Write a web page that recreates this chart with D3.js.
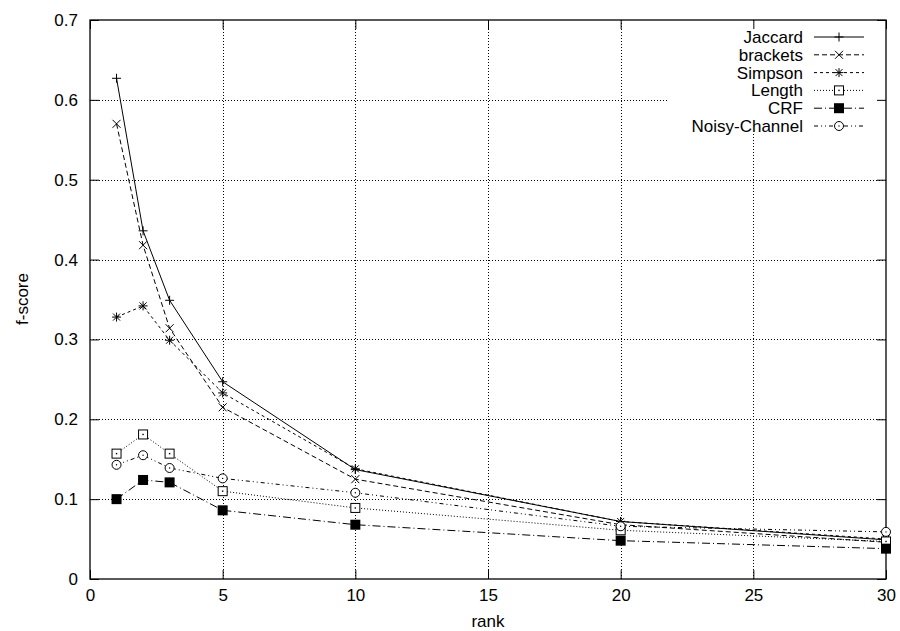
<!DOCTYPE html>
<html>
<head>
<meta charset="utf-8">
<script src="https://cdn.jsdelivr.net/npm/d3@7"></script>
<style>
  html, body { margin: 0; padding: 0; background: #fff; }
  svg { display: block; font-family: "Liberation Sans", Arial, Helvetica, sans-serif; }
</style>
</head>
<body>
<svg id="chart" width="900" height="631"></svg>
<script>
// Rank positions on the x axis
const ranks = [1, 2, 3, 5, 10, 20, 30];

// f-score per method at each rank
const jaccard  = [0.627, 0.436, 0.349, 0.247, 0.137, 0.072, 0.049];
const brackets = [0.570, 0.418, 0.314, 0.215, 0.125, 0.068, 0.046];
const simpson  = [0.328, 0.342, 0.299, 0.233, 0.138, 0.072, 0.050];
const lengthS  = [0.157, 0.181, 0.157, 0.110, 0.089, 0.061, 0.047];
const crf      = [0.100, 0.124, 0.121, 0.086, 0.068, 0.048, 0.038];
const noisy    = [0.143, 0.155, 0.139, 0.126, 0.108, 0.066, 0.059];

const seriesNames = ["Jaccard", "brackets", "Simpson", "Length", "CRF", "Noisy-Channel"];

// Axis ticks
const xTicks = [0, 5, 10, 15, 20, 25, 30];
const yTicks = [0, 0.1, 0.2, 0.3, 0.4, 0.5, 0.6, 0.7];

const svg = d3.select("#chart");
const plotL = 90, plotR = 886, plotT = 20, plotB = 579;

const x = d3.scaleLinear().domain([0, 30]).range([plotL, plotR]);
const y = d3.scaleLinear().domain([0, 0.7]).range([plotB, plotT]);

// Line and marker styles for each method
const styles = [
  { dash: null,          marker: "plus" },
  { dash: "5,3",         marker: "cross" },
  { dash: "3,3",         marker: "star" },
  { dash: "1,2",         marker: "box" },
  { dash: "8,3,1,3",     marker: "fbox" },
  { dash: "4,3,1,3,1,3", marker: "circle" }
];
const values = [jaccard, brackets, simpson, lengthS, crf, noisy];

const fontSize = 17;

// Grid lines (dotted)
const grid = svg.append("g").attr("stroke", "#000").attr("stroke-width", 1)
  .attr("stroke-dasharray", "1,2").attr("shape-rendering", "crispEdges");
xTicks.filter(t => t > 0 && t < 30).forEach(t => {
  grid.append("line").attr("x1", Math.round(x(t)) + 0.5).attr("x2", Math.round(x(t)) + 0.5)
    .attr("y1", plotT).attr("y2", plotB);
});
yTicks.filter(t => t > 0 && t < 0.7).forEach(t => {
  grid.append("line").attr("y1", Math.round(y(t)) + 0.5).attr("y2", Math.round(y(t)) + 0.5)
    .attr("x1", plotL).attr("x2", plotR);
});

// Key background covers the grid in the upper-right corner
svg.append("rect").attr("x", 668).attr("y", plotT + 1).attr("width", plotR - 668)
  .attr("height", 113).attr("fill", "#fff");

// Axes with inward ticks, mirrored on the opposite sides
const tickLen = 9;
const xAxisB = d3.axisBottom(x).tickValues(xTicks).tickSizeInner(-tickLen).tickSizeOuter(0).tickPadding(10)
  .tickFormat(d3.format("d"));
const xAxisT = d3.axisTop(x).tickValues(xTicks).tickSizeInner(-tickLen).tickSizeOuter(0).tickFormat("");
const yAxisL = d3.axisLeft(y).tickValues(yTicks).tickSizeInner(-tickLen).tickSizeOuter(0).tickPadding(12)
  .tickFormat(d => d === 0 ? "0" : d3.format(".1f")(d));
const yAxisR = d3.axisRight(y).tickValues(yTicks).tickSizeInner(-tickLen).tickSizeOuter(0).tickFormat("");

function styleAxis(g) {
  g.select(".domain").remove();
  g.selectAll("line").attr("stroke", "#000").attr("stroke-width", 1);
  g.selectAll("text").attr("fill", "#000").style("font-size", fontSize + "px")
    .style("font-family", "'Liberation Sans', Arial, sans-serif");
}
svg.append("g").attr("transform", `translate(0,${plotB})`).call(xAxisB).call(styleAxis);
svg.append("g").attr("transform", `translate(0,${plotT})`).call(xAxisT).call(styleAxis);
svg.append("g").attr("transform", `translate(${plotL},0)`).call(yAxisL).call(styleAxis);
svg.append("g").attr("transform", `translate(${plotR},0)`).call(yAxisR).call(styleAxis);

// Border
svg.append("rect").attr("x", plotL).attr("y", plotT).attr("width", plotR - plotL).attr("height", plotB - plotT)
  .attr("fill", "none").attr("stroke", "#000").attr("stroke-width", 1.3);

// Axis titles
svg.append("text").attr("x", (plotL + plotR) / 2).attr("y", 627).attr("text-anchor", "middle")
  .style("font-size", fontSize + "px").text("rank");
svg.append("text").attr("transform", "translate(28,299) rotate(-90)").attr("text-anchor", "middle")
  .style("font-size", fontSize + "px").text("f-score");

// Marker drawing
function drawMarker(g, type, cx, cy) {
  const s = 4.5;
  const p = (d) => g.append("path").attr("d", d).attr("stroke", "#000").attr("stroke-width", 1).attr("fill", "none");
  if (type === "plus") {
    p(`M${cx - s},${cy}H${cx + s}M${cx},${cy - s}V${cy + s}`);
  } else if (type === "cross") {
    const c = 4;
    p(`M${cx - c},${cy - c}L${cx + c},${cy + c}M${cx - c},${cy + c}L${cx + c},${cy - c}`);
  } else if (type === "star") {
    const c = 3.5;
    p(`M${cx - s},${cy}H${cx + s}M${cx},${cy - s}V${cy + s}M${cx - c},${cy - c}L${cx + c},${cy + c}M${cx - c},${cy + c}L${cx + c},${cy - c}`);
  } else if (type === "box") {
    g.append("rect").attr("x", cx - 4.5).attr("y", cy - 4.5).attr("width", 9).attr("height", 9)
      .attr("fill", "#fff").attr("stroke", "#000").attr("stroke-width", 1);
    g.append("rect").attr("x", cx - 0.7).attr("y", cy - 0.7).attr("width", 1.4).attr("height", 1.4).attr("fill", "#000");
  } else if (type === "fbox") {
    g.append("rect").attr("x", cx - 5).attr("y", cy - 5).attr("width", 10).attr("height", 10).attr("fill", "#000");
  } else if (type === "circle") {
    g.append("circle").attr("cx", cx).attr("cy", cy).attr("r", 4.5)
      .attr("fill", "#fff").attr("stroke", "#000").attr("stroke-width", 1);
    g.append("circle").attr("cx", cx).attr("cy", cy).attr("r", 0.7).attr("fill", "#000");
  }
}

// Series lines and markers
const line = d3.line().x(d => x(d[0])).y(d => y(d[1]));
const plot = svg.append("g");
values.forEach((vals, i) => {
  const pts = ranks.map((r, j) => [r, vals[j]]);
  plot.append("path").datum(pts).attr("d", line).attr("fill", "none").attr("stroke", "#000")
    .attr("stroke-width", 1).attr("stroke-dasharray", styles[i].dash);
});
values.forEach((vals, i) => {
  const g = plot.append("g");
  ranks.forEach((r, j) => drawMarker(g, styles[i].marker, x(r), y(vals[j])));
});

// Key
const key = svg.append("g");
seriesNames.forEach((name, i) => {
  const cy = 37 + i * 17.8;
  key.append("text").attr("x", 803).attr("y", cy).attr("dy", "0.35em").attr("text-anchor", "end")
    .style("font-size", fontSize + "px").text(name);
  key.append("line").attr("x1", 814).attr("x2", 864).attr("y1", cy).attr("y2", cy)
    .attr("stroke", "#000").attr("stroke-width", 1).attr("stroke-dasharray", styles[i].dash);
  drawMarker(key.append("g"), styles[i].marker, 839, cy);
});
</script>
</body>
</html>
